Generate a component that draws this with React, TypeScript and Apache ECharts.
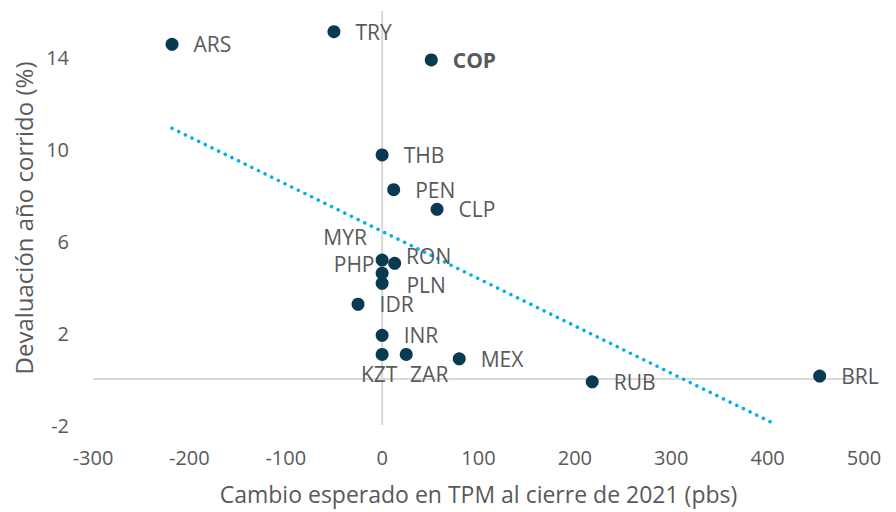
import React, { useEffect, useRef } from "react";
import * as echarts from "echarts";

const currencies = ["ARS", "TRY", "COP", "THB", "PEN", "CLP", "MYR", "RON", "PHP", "PLN", "IDR", "INR", "KZT", "ZAR", "MEX", "RUB", "BRL"];
const tpmChange = [-218, -50, 51, 0, 12, 57, 0, 13, 0, 0, -25, 0, 0, 25, 80, 218, 454];
const devaluation = [14.55, 15.1, 13.87, 9.74, 8.23, 7.38, 5.17, 5.03, 4.6, 4.16, 3.25, 1.9, 1.07, 1.07, 0.88, -0.12, 0.13];
const trendX = [-218, 408];
const trendY = [10.9, -1.97];
const xTicks = { min: -300, max: 500, interval: 100 };
const yTicks = { min: -2, max: 16, interval: 4 };

const labelOverrides: Record<string, any> = {
  MYR: { position: "inside", offset: [-37, -23] },
  PHP: { position: "inside", offset: [-28, -9] },
  RON: { position: "inside", offset: [34, -7] },
  PLN: { position: "inside", offset: [44, 2] },
  KZT: { position: "inside", offset: [-3, 20] },
  ZAR: { position: "inside", offset: [23, 20] },
  COP: { fontWeight: "bold" },
};

const FONT = "'Open Sans', 'Noto Sans', sans-serif";
const TEXT = "#595959";

export default function App() {
  const ref = useRef<HTMLDivElement>(null);
  useEffect(() => {
    if (!ref.current) return;
    const chart = echarts.init(ref.current, null, { renderer: "svg" });
    const points = currencies.map((c, i) => ({
      name: c,
      value: [tpmChange[i], devaluation[i]],
      label: labelOverrides[c] ? { ...labelOverrides[c] } : undefined,
    }));
    const zeroStyle = { color: "#D9D9D9", width: 2, type: "solid" };
    chart.setOption({
      animation: false,
      backgroundColor: "#ffffff",
      textStyle: { fontFamily: FONT },
      grid: { left: 93, right: 32, top: 11, bottom: 87 },
      xAxis: {
        type: "value",
        min: xTicks.min,
        max: xTicks.max,
        interval: xTicks.interval,
        name: "Cambio esperado en TPM al cierre de 2021 (pbs)",
        nameLocation: "middle",
        nameGap: 57,
        nameTextStyle: { color: TEXT, fontSize: 23, fontFamily: FONT },
        axisLine: { show: false },
        axisTick: { show: false },
        splitLine: { show: false },
        axisLabel: { color: TEXT, fontSize: 20, margin: 22, fontFamily: FONT },
      },
      yAxis: {
        type: "value",
        min: yTicks.min,
        max: yTicks.max,
        interval: yTicks.interval,
        name: "Devaluación año corrido (%)",
        nameLocation: "middle",
        nameGap: 57,
        nameTextStyle: { color: TEXT, fontSize: 24, fontFamily: FONT },
        axisLine: { show: false },
        axisTick: { show: false },
        splitLine: { show: false },
        axisLabel: { color: TEXT, fontSize: 20, margin: 24, showMaxLabel: false, fontFamily: FONT },
      },
      series: [
        {
          type: "line",
          data: [[0, yTicks.min], [0, yTicks.max]],
          symbol: "none",
          silent: true,
          z: 1,
          lineStyle: zeroStyle,
        },
        {
          type: "line",
          data: [[xTicks.min, 0], [xTicks.max, 0]],
          symbol: "none",
          silent: true,
          z: 1,
          lineStyle: zeroStyle,
        },
        {
          type: "line",
          data: trendX.map((x, i) => [x, trendY[i]]),
          symbol: "none",
          silent: true,
          z: 2,
          lineStyle: { color: "#00B0F0", width: 3.5, type: [0.1, 7.3], cap: "round" },
        },
        {
          type: "scatter",
          z: 3,
          symbolSize: 13,
          itemStyle: { color: "#0A3A52", opacity: 1 },
          label: {
            show: true,
            position: "right",
            distance: 15,
            formatter: "{b}",
            color: TEXT,
            fontSize: 21,
            lineHeight: 21,
            fontFamily: FONT,
          },
          data: points,
        },
      ],
    });
    return () => chart.dispose();
  }, []);
  return <div ref={ref} style={{ position: "fixed", left: 0, top: 0, width: 896, height: 512 }} />;
}
